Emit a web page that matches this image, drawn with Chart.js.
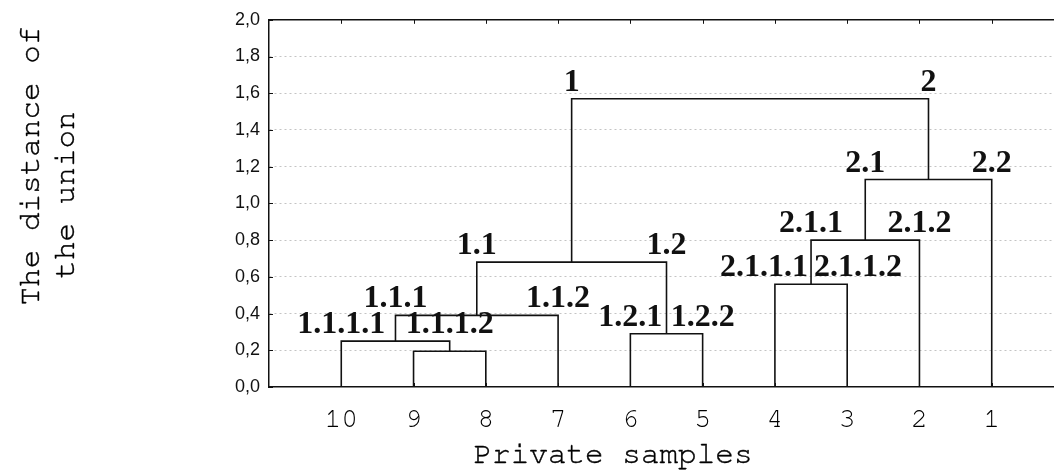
<!DOCTYPE html>
<html>
<head>
<meta charset="utf-8">
<script src="https://cdn.jsdelivr.net/npm/chart.js@4/dist/chart.umd.min.js"></script>
<style>
  body { margin: 0; background: #fff; overflow: hidden; }
  .wrap { width: 1054px; height: 471px; overflow: hidden; position: relative; }
</style>
</head>
<body>
<div class="wrap"><canvas id="chart" width="1064" height="471"></canvas></div>
<script>
// leaves, left to right along the axis
const leafLabels = ['10', '9', '8', '7', '6', '5', '4', '3', '2', '1'];

// merges: node ids 0..9 are leaves, 10+i is merge i
const mergeLeft   = [1, 0, 11, 4, 12, 6, 15, 16, 14];
const mergeRight  = [2, 10, 3, 5, 13, 7, 8, 9, 17];
const mergeHeight = [0.195, 0.25, 0.39, 0.29, 0.68, 0.56, 0.80, 1.13, 1.57];

// cluster names written over the two branches of each merge
const labelLeft  = ['', '1.1.1.1', '1.1.1', '1.2.1', '1.1', '2.1.1.1', '2.1.1', '2.1', '1'];
const labelRight = ['', '1.1.1.2', '1.1.2', '1.2.2', '1.2', '2.1.1.2', '2.1.2', '2.2', '2'];

const yTitle = ['The distance of', 'the union'];
const xTitle = 'Private samples';

const nLeaf = leafLabels.length;
const monoFont = '"Nimbus Mono PS", "FreeMono", "Courier New", "Liberation Mono", monospace';

const nodeX = (id) => {
  if (id < nLeaf) return id + 1;
  const m = id - nLeaf;
  return (nodeX(mergeLeft[m]) + nodeX(mergeRight[m])) / 2;
};
const nodeH = (id) => id < nLeaf ? 0 : mergeHeight[id - nLeaf];

const datasets = mergeHeight.map((h, i) => {
  const xl = nodeX(mergeLeft[i]);
  const xr = nodeX(mergeRight[i]);
  return {
    data: [
      { x: xl, y: nodeH(mergeLeft[i]) },
      { x: xl, y: h },
      { x: xr, y: h },
      { x: xr, y: nodeH(mergeRight[i]) },
    ],
    borderColor: '#111',
    borderWidth: 1.6,
    pointRadius: 0,
    tension: 0,
    fill: false,
  };
});

// cluster labels, top frame line, inward ticks and the axis titles
const decorPlugin = {
  id: 'decor',
  afterDatasetsDraw(chart) {
    const { ctx, chartArea, scales } = chart;
    const xs = scales.x, ys = scales.y;
    ctx.save();

    // top frame
    ctx.strokeStyle = '#111';
    ctx.lineWidth = 1.5;
    ctx.beginPath();
    ctx.moveTo(chartArea.left, chartArea.top);
    ctx.lineTo(chartArea.right + 2, chartArea.top);
    ctx.stroke();

    // inward tick marks
    ctx.lineWidth = 1;
    ctx.beginPath();
    leafLabels.forEach((l, i) => {
      const px = Math.round(xs.getPixelForValue(i + 1)) + 0.5;
      ctx.moveTo(px, chartArea.top);
      ctx.lineTo(px, chartArea.top + 4);
      ctx.moveTo(px, chartArea.bottom);
      ctx.lineTo(px, chartArea.bottom - 4);
    });
    ys.ticks.forEach(t => {
      const py = Math.round(ys.getPixelForValue(t.value)) + 0.5;
      ctx.moveTo(chartArea.left, py);
      ctx.lineTo(chartArea.left + 4, py);
    });
    ctx.stroke();

    // cluster labels
    ctx.font = 'bold 32px "Liberation Serif", "Times New Roman", serif';
    ctx.fillStyle = '#111';
    ctx.textBaseline = 'alphabetic';
    ctx.textAlign = 'left';
    mergeHeight.forEach((h, i) => {
      const py = ys.getPixelForValue(h) - 8;
      const pc = xs.getPixelForValue((nodeX(mergeLeft[i]) + nodeX(mergeRight[i])) / 2);
      if (labelLeft[i]) {
        const w = ctx.measureText(labelLeft[i]).width;
        let x0 = xs.getPixelForValue(nodeX(mergeLeft[i])) - w / 2;
        if (x0 + w > pc - 3) x0 = pc - 3 - w;
        ctx.fillText(labelLeft[i], x0, py);
      }
      if (labelRight[i]) {
        const w = ctx.measureText(labelRight[i]).width;
        let x0 = xs.getPixelForValue(nodeX(mergeRight[i])) - w / 2;
        if (x0 < pc + 3) x0 = pc + 3;
        ctx.fillText(labelRight[i], x0, py);
      }
    });

    // axis titles
    ctx.fillStyle = '#000';
    ctx.strokeStyle = '#000';
    ctx.lineWidth = 0.4;
    ctx.font = '31px ' + monoFont;
    ctx.textAlign = 'center';
    ctx.textBaseline = 'alphabetic';
    ctx.fillText(xTitle, 613, 463);
    ctx.strokeText(xTitle, 613, 463);

    ctx.textBaseline = 'middle';
    [[30, 166], [65, 195]].forEach((p, k) => {
      ctx.save();
      ctx.translate(p[0], p[1]);
      ctx.rotate(-Math.PI / 2);
      ctx.fillText(yTitle[k], 0, 0);
      ctx.strokeText(yTitle[k], 0, 0);
      ctx.restore();
    });

    ctx.restore();
  }
};

new Chart(document.getElementById('chart'), {
  type: 'line',
  data: { datasets },
  options: {
    responsive: false,
    animation: false,
    layout: { padding: { top: 19, left: 0, right: 0, bottom: 0 } },
    plugins: { legend: { display: false }, tooltip: { enabled: false } },
    scales: {
      x: {
        type: 'linear',
        min: 0,
        max: nLeaf + 1,
        afterBuildTicks: (scale) => {
          scale.ticks = leafLabels.map((l, i) => ({ value: i + 1 }));
        },
        afterFit: (scale) => { scale.height = 84; },
        ticks: {
          autoSkip: false,
          maxRotation: 0,
          padding: 15,
          color: '#000',
          font: { family: monoFont, size: 28 },
          callback: (v) => leafLabels[v - 1] || '',
        },
        grid: { display: false, drawTicks: false },
        border: { display: true, color: '#111', width: 1.5 },
      },
      y: {
        min: 0,
        max: 2,
        afterFit: (scale) => { scale.width = 269; },
        ticks: {
          stepSize: 0.2,
          padding: 9,
          color: '#111',
          font: { family: '"Liberation Sans", Arial, sans-serif', size: 18 },
          callback: (v) => v.toFixed(1).replace('.', ','),
        },
        grid: {
          drawTicks: false,
          color: (c) => (c.tick && c.tick.value > 0.01 && c.tick.value < 1.99) ? '#c4c4c4' : 'rgba(0,0,0,0)',
          lineWidth: 1,
        },
        border: { display: true, color: '#111', width: 1.5, dash: [2, 3] },
      },
    },
  },
  plugins: [decorPlugin],
});
</script>
</body>
</html>
